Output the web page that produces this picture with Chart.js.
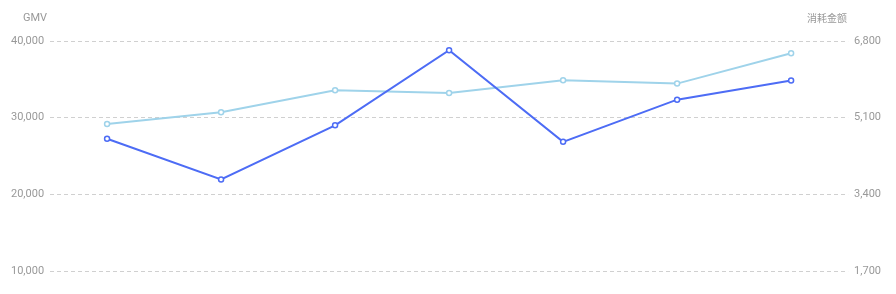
<!DOCTYPE html>
<html>
<head>
<meta charset="utf-8">
<script src="https://cdn.jsdelivr.net/npm/chart.js@4"></script>
<style>
  html, body { margin: 0; padding: 0; background: #fff; }
  #wrap { width: 896px; height: 294px; position: relative; }
</style>
</head>
<body>
<div id="wrap"><canvas id="trendChart"></canvas></div>
<script>
const categories = ["1", "2", "3", "4", "5", "6", "7"];
const gmvValues = [27250, 21950, 29000, 38800, 26850, 32350, 34850];
const costValues = [4960, 5220, 5710, 5645, 5930, 5855, 6530];
const gmvTicks = [10000, 20000, 30000, 40000];
const costTicks = [1700, 3400, 5100, 6800];

const axisTitles = {
  id: "axisTitles",
  afterDraw(chart) {
    const c = chart.ctx;
    const l = chart.scales.y, r = chart.scales.y1;
    c.save();
    c.fillStyle = "#999";
    c.textBaseline = "middle";
    c.textAlign = "right";
    c.font = "11px Roboto, sans-serif";
    c.fillText("GMV", l.right - 3, 18);
    c.font = "10px 'Noto Sans CJK SC', sans-serif";
    c.fillText("消耗金额", r.left - 1, 18);
    c.restore();
  },
};

const ctx = document.getElementById("trendChart").getContext("2d");

new Chart(ctx, {
  type: "line",
  data: {
    labels: categories,
    datasets: [
      {
        label: "GMV",
        data: gmvValues,
        yAxisID: "y",
        borderColor: "#4d6cf5",
        borderWidth: 2,
        pointBackgroundColor: "#fff",
        pointBorderColor: "#4d6cf5",
        pointBorderWidth: 1.5,
        pointRadius: 2.5,
        tension: 0,
      },
      {
        label: "消耗金额",
        data: costValues,
        yAxisID: "y1",
        borderColor: "#9fd3ea",
        borderWidth: 2,
        pointBackgroundColor: "#fff",
        pointBorderColor: "#9fd3ea",
        pointBorderWidth: 1.5,
        pointRadius: 2.5,
        tension: 0,
      },
    ],
  },
  options: {
    responsive: true,
    maintainAspectRatio: false,
    animation: false,
    layout: { padding: { top: 41, bottom: 23, left: 5, right: 9 } },
    plugins: { legend: { display: false }, tooltip: { enabled: false } },
    scales: {
      x: {
        offset: true,
        display: false,
      },
      y: {
        position: "left",
        min: 10000,
        max: 40000,
        afterBuildTicks: (s) => { s.ticks = gmvTicks.map((v) => ({ value: v })); },
        border: { display: false, dash: [4, 3] },
        grid: { color: "#d0d0d0", drawTicks: false },
        ticks: {
          color: "#999",
          padding: 6,
          font: { size: 11, family: "Roboto, sans-serif" },
          callback: (v) => v.toLocaleString("en-US"),
        },
      },
      y1: {
        position: "right",
        min: 1700,
        max: 6800,
        afterBuildTicks: (s) => { s.ticks = costTicks.map((v) => ({ value: v })); },
        border: { display: false },
        grid: { drawOnChartArea: false, drawTicks: false },
        ticks: {
          color: "#999",
          padding: 6,
          font: { size: 11, family: "Roboto, sans-serif" },
          callback: (v) => v.toLocaleString("en-US"),
        },
      },
    },
  },
  plugins: [axisTitles],
});
</script>
</body>
</html>
